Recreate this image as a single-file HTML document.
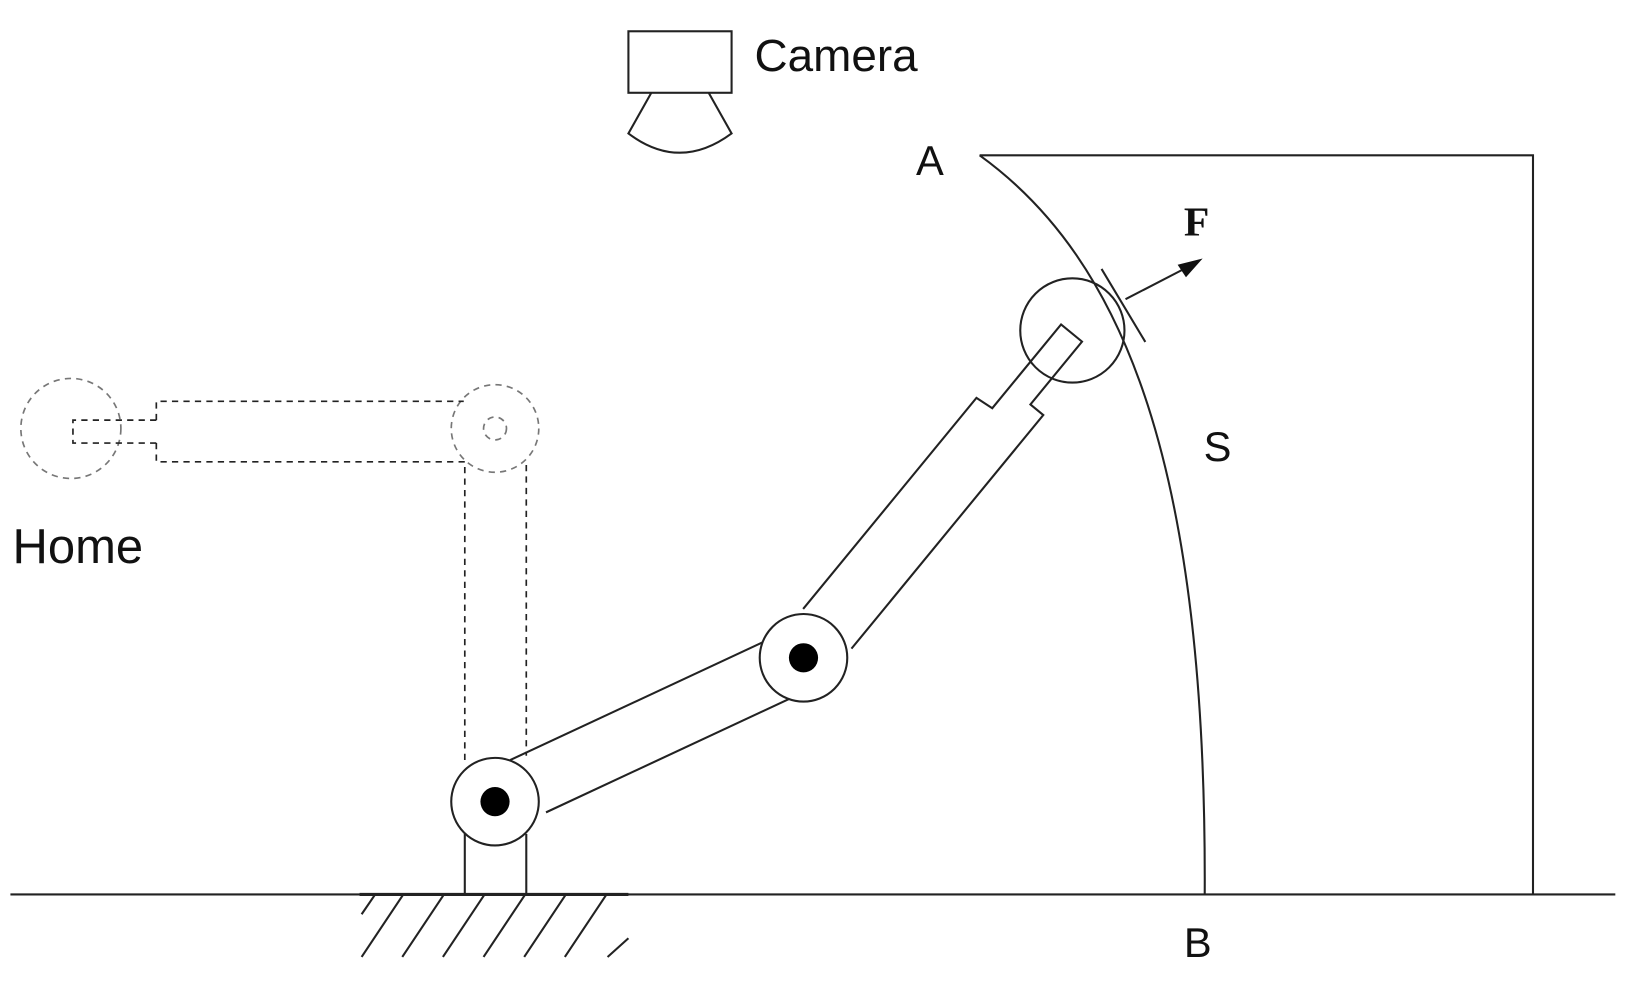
<!DOCTYPE html>
<html><head><meta charset="utf-8"><style>
html,body{margin:0;padding:0;background:#fff;}
svg{display:block;}
text{font-family:"Liberation Sans",sans-serif;fill:#111;}
</style></head><body>
<svg width="1632" height="982" viewBox="0 0 1566 942" preserveAspectRatio="none" xmlns="http://www.w3.org/2000/svg">
<g fill="none" stroke="#222" stroke-width="2">
  <g>
    <rect x="603" y="30" width="99" height="59"/>
    <path d="M625,89 L603,128 Q652,165 702,128 L680,89"/>
  </g>
  <polyline points="940,149 1471,149 1471,858"/>
  <path d="M940,149 C1080,250 1158,450 1156,858"/>
  <line x1="1057" y1="258" x2="1099" y2="328"/>
  <line x1="1080" y1="287" x2="1140" y2="256"/>
  <polygon points="1154,248 1130,254 1138,266" fill="#111" stroke="none"/>
  <line x1="10" y1="858" x2="1550" y2="858"/>
  <line x1="345" y1="858" x2="603" y2="858" stroke-width="3"/>
  <g>
    <line x1="387" y1="858" x2="347" y2="918"/>
    <line x1="426" y1="858" x2="386" y2="918"/>
    <line x1="465" y1="858" x2="425" y2="918"/>
    <line x1="504" y1="858" x2="464" y2="918"/>
    <line x1="543" y1="858" x2="503" y2="918"/>
    <line x1="582" y1="858" x2="542" y2="918"/>
    <line x1="603" y1="900" x2="583" y2="918"/>
    <line x1="360" y1="858" x2="347" y2="877"/>
  </g>
  <g stroke-dasharray="6,5" stroke-width="1.6">
    <circle cx="68" cy="411" r="48" stroke="#777"/>
    <circle cx="475" cy="411" r="42" stroke="#777"/>
    <circle cx="475" cy="411" r="11" stroke="#777"/>
    <polyline points="150,403 70,403 70,425 150,425"/>
    <polyline points="150,403 150,385 445,385"/>
    <polyline points="150,425 150,443 446,443 446,730"/>
    <line x1="505" y1="446" x2="505" y2="725"/>
  </g>
  <polyline points="446,858 446,800"/>
  <polyline points="505,858 505,800"/>
  <g transform="translate(475,769) rotate(-25)">
    <line x1="30" y1="-30" x2="300" y2="-30"/>
    <line x1="40" y1="30" x2="300" y2="30"/>
  </g>
  <g transform="translate(771,631) rotate(-50.6)">
    <polyline points="36,-30 298,-30 300,-12 404,-12 404,14 326,14 326,30 36,30"/>
  </g>
  <circle cx="475" cy="769" r="42" fill="#fff"/>
  <circle cx="771" cy="631" r="42" fill="#fff"/>
  <circle cx="1029" cy="317" r="50"/>
</g>
<circle cx="475" cy="769" r="14" fill="#000"/>
<circle cx="771" cy="631" r="14" fill="#000"/>
<text x="724" y="68" font-size="44">Camera</text>
<text x="879" y="168" font-size="40">A</text>
<text x="1155" y="442" font-size="40">S</text>
<text x="1136" y="918" font-size="40">B</text>
<text x="1136" y="226" font-size="40" font-weight="bold" style="font-family:'Liberation Serif',serif">F</text>
<text x="12" y="540" font-size="47">Home</text>
</svg>
</body></html>
